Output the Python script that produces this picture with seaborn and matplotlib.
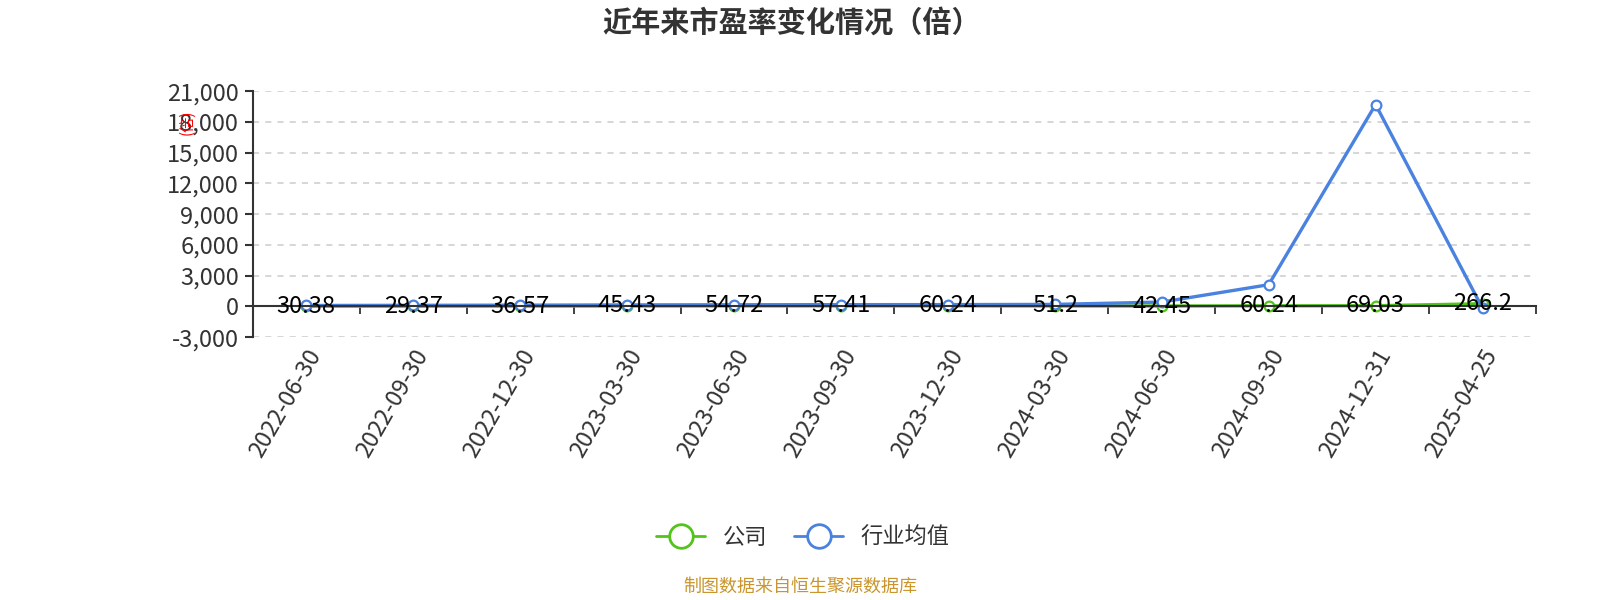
import pandas as pd
import numpy as np
import seaborn as sns
from matplotlib import pyplot as plt
from matplotlib.lines import Line2D
from matplotlib.ticker import FuncFormatter, FixedLocator

# data
dates = ["2022-06-30", "2022-09-30", "2022-12-30", "2023-03-30", "2023-06-30", "2023-09-30",
         "2023-12-30", "2024-03-30", "2024-06-30", "2024-09-30", "2024-12-31", "2025-04-25"]
company = [30.38, 29.37, 36.57, 45.43, 54.72, 57.41, 60.24, 51.2, 42.45, 60.24, 69.03, 266.2]
industry = [95, 110, 125, 150, 165, 175, 180, 200, 430, 2120, 19700, -180]
company_labels = ["30.38", "29.37", "36.57", "45.43", "54.72", "57.41",
                  "60.24", "51.2", "42.45", "60.24", "69.03", "266.2"]
series_names = ["公司", "行业均值"]
colors = {"公司": "#52c41a", "行业均值": "#4a82e0"}
y_ticks = [-3000, 0, 3000, 6000, 9000, 12000, 15000, 18000, 21000]

df = pd.DataFrame({
    "date": dates * 2,
    "value": company + industry,
    "series": [series_names[0]] * len(dates) + [series_names[1]] * len(dates),
})

sns.set_style("white")
plt.rcParams['font.family'] = ['Noto Sans CJK SC', 'DejaVu Sans']

fig = plt.figure(figsize=(16, 6), dpi=100)
ax = fig.add_axes([0.158, 0.438, 0.802, 0.41])

sns.lineplot(data=df, x="date", y="value", hue="series", hue_order=series_names,
             palette=colors, marker="o", markersize=7, markerfacecolor="white",
             markeredgewidth=1.6, linewidth=2.4, sort=False, legend=False, ax=ax)
for line, name in zip(ax.lines, series_names):
    line.set_markeredgecolor(colors[name])

# data labels for company series
for i, (v, lab) in enumerate(zip(company, company_labels)):
    ax.text(i, v, lab, ha="center", va="center", fontsize=17, color="black", zorder=5)

ax.set_xlim(-0.5, len(dates) - 0.5)
ax.set_ylim(-3000, 21000)
ax.set_yticks(y_ticks)
ax.yaxis.set_major_formatter(FuncFormatter(lambda v, p: f"{int(v):,}"))
ax.tick_params(axis="y", labelsize=17, labelcolor="#333333", length=6, width=1.5,
               color="#333333", direction="out", left=True, pad=4)
for t in y_ticks:
    if t != 0:
        ax.axhline(t, color="#cccccc", linestyle=(0, (4, 4)), linewidth=1.1, zorder=0)

ax.set_xlabel("")
ax.set_ylabel("")
ax.spines["top"].set_visible(False)
ax.spines["right"].set_visible(False)
ax.spines["left"].set_color("#333333")
ax.spines["left"].set_linewidth(1.5)
ax.spines["bottom"].set_position(("data", 0))
ax.spines["bottom"].set_color("#333333")
ax.spines["bottom"].set_linewidth(1.5)

ax.set_xticks(range(len(dates)))
ax.set_xticklabels(dates, rotation=60, ha="right", rotation_mode="anchor")
ax.tick_params(axis="x", which="major", length=0, labelsize=17, labelcolor="#333333", pad=28)
ax.xaxis.set_minor_locator(FixedLocator(np.arange(0.5, len(dates) - 0.5 + 1, 1.0)))
ax.tick_params(axis="x", which="minor", length=6, width=1.3, color="#333333",
               direction="out", bottom=True)

# unit label
fig.text(0.117, 0.797, "(倍)", rotation=90, color="red", fontsize=11, ha="center", va="center")

fig.text(0.495, 0.962, "近年来市盈率变化情况（倍）", ha="center", va="center",
         fontsize=21, fontweight="bold", color="#333333")

handles = [Line2D([0], [0], color=colors[n], linewidth=2, marker="o", markersize=17,
                  markerfacecolor="white", markeredgewidth=2, markeredgecolor=colors[n])
           for n in series_names]
fig.legend(handles, series_names, loc="center", bbox_to_anchor=(0.502, 0.105), ncol=2,
           frameon=False, fontsize=16, handlelength=2.2, columnspacing=1.2,
           labelcolor="#333333")

fig.text(0.5, 0.022, "制图数据来自恒生聚源数据库", ha="center", va="center",
         fontsize=13, color="#c9952c")

fig.savefig("out.png", dpi=100)
